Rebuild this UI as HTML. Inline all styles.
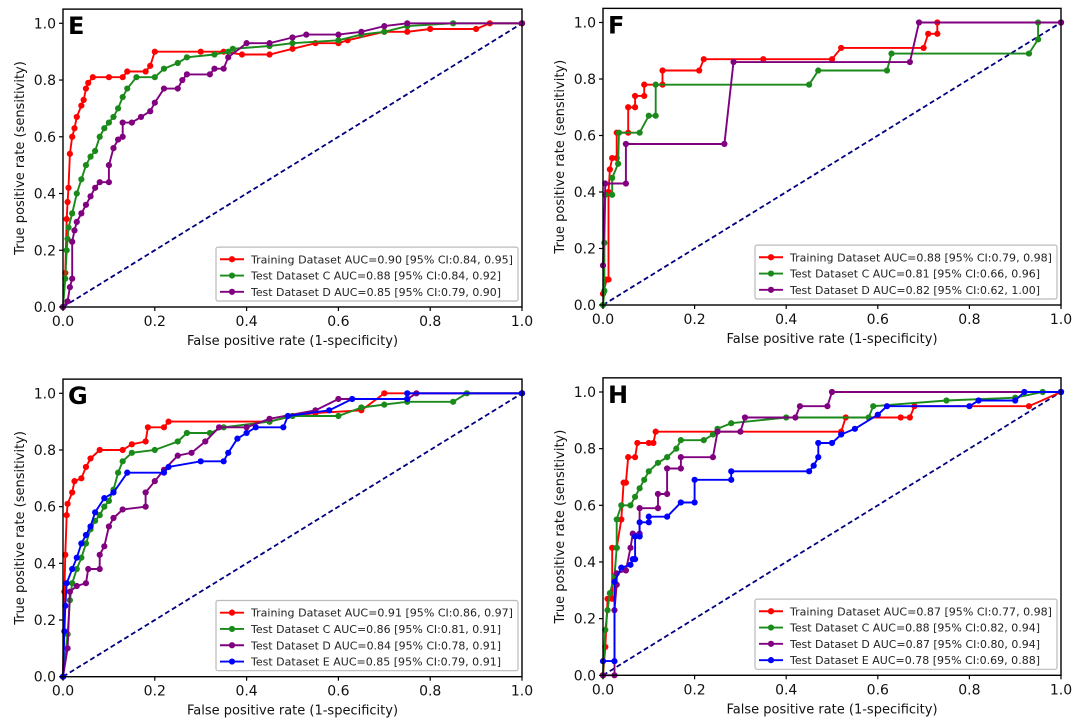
<!DOCTYPE html>
<html><head><meta charset="utf-8">
<style>
html,body{margin:0;padding:0;background:#fff;}
svg{display:block;font-family:"DejaVu Sans","Liberation Sans",sans-serif;}
</style></head>
<body>
<svg id="fig" width="1080" height="726" viewBox="0 0 1080 726"></svg>
<script>
// ---- data (fpr / tpr arrays per panel & series) ----
const tickLabels = ["0.0","0.2","0.4","0.6","0.8","1.0"];
const tickValues = [0,0.2,0.4,0.6,0.8,1.0];

const eTrainFpr=[0,0.005,0.008,0.01,0.012,0.015,0.02,0.025,0.03,0.04,0.045,0.05,0.055,0.065,0.1,0.13,0.14,0.18,0.19,0.2,0.3,0.35,0.39,0.45,0.5,0.55,0.6,0.62,0.7,0.75,0.8,0.9,0.93,1];
const eTrainTpr=[0,0.12,0.31,0.37,0.42,0.54,0.6,0.63,0.67,0.71,0.73,0.77,0.79,0.81,0.81,0.81,0.83,0.83,0.85,0.9,0.9,0.9,0.89,0.89,0.91,0.93,0.93,0.94,0.97,0.97,0.98,0.98,1,1];
const eCFpr=[0,0.005,0.008,0.01,0.012,0.02,0.03,0.04,0.05,0.06,0.07,0.08,0.09,0.1,0.11,0.12,0.13,0.14,0.16,0.2,0.22,0.25,0.27,0.33,0.36,0.37,0.45,0.5,0.6,0.65,0.7,0.75,0.85,1];
const eCTpr=[0,0.1,0.2,0.24,0.28,0.33,0.4,0.45,0.5,0.53,0.55,0.6,0.63,0.65,0.67,0.7,0.74,0.77,0.81,0.81,0.84,0.86,0.88,0.89,0.9,0.91,0.92,0.93,0.94,0.96,0.97,0.99,1,1];
const eDFpr=[0,0.01,0.015,0.02,0.02,0.025,0.03,0.04,0.05,0.06,0.07,0.08,0.1,0.1,0.11,0.12,0.13,0.13,0.15,0.17,0.19,0.2,0.22,0.25,0.26,0.27,0.32,0.33,0.35,0.36,0.4,0.45,0.5,0.53,0.6,0.65,0.7,0.75,1];
const eDTpr=[0,0.02,0.07,0.1,0.23,0.27,0.3,0.33,0.36,0.39,0.42,0.44,0.44,0.5,0.56,0.59,0.6,0.65,0.65,0.67,0.69,0.72,0.77,0.77,0.8,0.82,0.82,0.84,0.84,0.88,0.93,0.93,0.95,0.96,0.96,0.97,0.99,1,1];

const fTrainFpr=[0,0.008,0.012,0.012,0.015,0.02,0.03,0.03,0.055,0.055,0.07,0.07,0.09,0.09,0.13,0.13,0.21,0.22,0.35,0.5,0.52,0.7,0.71,0.73,0.73,1];
const fTrainTpr=[0.04,0.09,0.09,0.4,0.48,0.52,0.52,0.61,0.61,0.7,0.7,0.74,0.74,0.78,0.78,0.83,0.83,0.87,0.87,0.87,0.91,0.91,0.96,0.96,1,1];
const fCFpr=[0,0.003,0.003,0.005,0.02,0.02,0.033,0.035,0.08,0.1,0.115,0.115,0.45,0.47,0.62,0.63,0.93,0.95,0.95,1];
const fCTpr=[0,0.05,0.22,0.39,0.39,0.45,0.5,0.61,0.61,0.67,0.67,0.78,0.78,0.83,0.83,0.89,0.89,0.94,1,1];
const fDFpr=[0,0.005,0.05,0.05,0.265,0.285,0.67,0.69,1];
const fDTpr=[0.14,0.43,0.43,0.57,0.57,0.86,0.86,1,1];

const gTrainFpr=[0,0.003,0.005,0.008,0.01,0.02,0.025,0.04,0.05,0.06,0.08,0.13,0.15,0.18,0.185,0.22,0.23,0.45,0.5,0.55,0.65,0.7,1];
const gTrainTpr=[0,0.3,0.43,0.57,0.61,0.65,0.69,0.7,0.74,0.77,0.8,0.8,0.82,0.83,0.88,0.88,0.9,0.9,0.92,0.93,0.94,1,1];
const gCFpr=[0,0.01,0.015,0.02,0.03,0.04,0.05,0.06,0.07,0.08,0.09,0.1,0.11,0.12,0.13,0.15,0.2,0.25,0.27,0.32,0.35,0.45,0.5,0.6,0.65,0.7,0.75,0.85,0.88,1];
const gCTpr=[0,0.15,0.27,0.33,0.38,0.42,0.47,0.52,0.55,0.57,0.6,0.62,0.66,0.72,0.76,0.79,0.8,0.83,0.86,0.86,0.88,0.9,0.92,0.92,0.95,0.96,0.97,0.97,1,1];
const gDFpr=[0,0.01,0.015,0.03,0.05,0.055,0.08,0.08,0.09,0.1,0.11,0.13,0.18,0.18,0.2,0.22,0.25,0.28,0.31,0.34,0.4,0.45,0.55,0.6,0.75,0.77,1];
const gDTpr=[0,0.1,0.3,0.32,0.33,0.38,0.38,0.43,0.46,0.53,0.56,0.59,0.6,0.65,0.69,0.73,0.78,0.79,0.83,0.88,0.88,0.91,0.94,0.98,0.98,1,1];
const gEFpr=[0,0.003,0.005,0.008,0.02,0.03,0.04,0.05,0.06,0.07,0.09,0.11,0.14,0.22,0.23,0.3,0.35,0.36,0.38,0.4,0.42,0.48,0.49,0.58,0.63,0.75,0.75,1];
const gETpr=[0,0.16,0.25,0.33,0.38,0.42,0.47,0.5,0.53,0.58,0.63,0.65,0.72,0.72,0.74,0.76,0.76,0.79,0.84,0.86,0.88,0.88,0.92,0.94,0.98,0.98,1,1];

const hTrainFpr=[0,0.005,0.01,0.02,0.02,0.03,0.04,0.045,0.05,0.055,0.07,0.075,0.1,0.11,0.115,0.52,0.53,0.65,0.67,0.68,0.93,1];
const hTrainTpr=[0,0.1,0.27,0.27,0.45,0.45,0.55,0.68,0.68,0.77,0.77,0.82,0.82,0.82,0.86,0.86,0.91,0.91,0.91,0.95,0.95,1];
const hCFpr=[0,0.005,0.01,0.015,0.025,0.03,0.03,0.04,0.06,0.07,0.08,0.09,0.1,0.12,0.14,0.16,0.17,0.22,0.24,0.25,0.28,0.4,0.58,0.59,0.75,0.9,0.96,1];
const hCTpr=[0,0.16,0.23,0.29,0.35,0.45,0.55,0.6,0.6,0.63,0.66,0.69,0.72,0.75,0.77,0.8,0.83,0.83,0.85,0.87,0.89,0.91,0.91,0.95,0.97,0.98,1,1];
const hDFpr=[0,0.025,0.025,0.03,0.03,0.05,0.06,0.065,0.08,0.08,0.12,0.12,0.14,0.14,0.17,0.17,0.24,0.25,0.3,0.31,0.42,0.43,0.49,0.5,1];
const hDTpr=[0,0,0.23,0.32,0.36,0.37,0.45,0.5,0.5,0.59,0.59,0.64,0.64,0.73,0.73,0.77,0.77,0.86,0.86,0.91,0.91,0.95,0.95,1,1];
const hEFpr=[0,0.025,0.025,0.04,0.06,0.065,0.07,0.07,0.08,0.08,0.1,0.1,0.14,0.17,0.2,0.2,0.28,0.28,0.45,0.46,0.47,0.47,0.5,0.52,0.55,0.6,0.62,0.8,0.82,0.9,0.92,1];
const hETpr=[0.05,0.05,0.33,0.38,0.39,0.41,0.41,0.49,0.49,0.54,0.54,0.56,0.56,0.61,0.61,0.69,0.69,0.72,0.72,0.74,0.77,0.82,0.82,0.85,0.87,0.92,0.95,0.95,0.97,0.97,1,1];

const legendE=["Training Dataset AUC=0.90 [95% CI:0.84, 0.95]","Test Dataset C AUC=0.88 [95% CI:0.84, 0.92]","Test Dataset D AUC=0.85 [95% CI:0.79, 0.90]"];
const legendF=["Training Dataset AUC=0.88 [95% CI:0.79, 0.98]","Test Dataset C AUC=0.81 [95% CI:0.66, 0.96]","Test Dataset D AUC=0.82 [95% CI:0.62, 1.00]"];
const legendG=["Training Dataset AUC=0.91 [95% CI:0.86, 0.97]","Test Dataset C AUC=0.86 [95% CI:0.81, 0.91]","Test Dataset D AUC=0.84 [95% CI:0.78, 0.91]","Test Dataset E AUC=0.85 [95% CI:0.79, 0.91]"];
const legendH=["Training Dataset AUC=0.87 [95% CI:0.77, 0.98]","Test Dataset C AUC=0.88 [95% CI:0.82, 0.94]","Test Dataset D AUC=0.87 [95% CI:0.80, 0.94]","Test Dataset E AUC=0.78 [95% CI:0.69, 0.88]"];

const colors=["#ff0000","#1a8a1a","#800080","#0000ff"];
const NS="http://www.w3.org/2000/svg";
const svg=document.getElementById('fig');
function mk(tag,attrs,parent){const e=document.createElementNS(NS,tag);for(const k in attrs)e.setAttribute(k,attrs[k]);(parent||svg).appendChild(e);return e;}

const panels=[
 {id:"e",letter:"E",x0:63,x1:522,y0:307,y1:23.3,series:[[eTrainFpr,eTrainTpr],[eCFpr,eCTpr],[eDFpr,eDTpr]],legend:legendE},
 {id:"f",letter:"F",x0:603,x1:1061,y0:305,y1:22.5,series:[[fTrainFpr,fTrainTpr],[fCFpr,fCTpr],[fDFpr,fDTpr]],legend:legendF},
 {id:"g",letter:"G",x0:63,x1:522,y0:676.7,y1:393.3,series:[[gTrainFpr,gTrainTpr],[gCFpr,gCTpr],[gDFpr,gDTpr],[gEFpr,gETpr]],legend:legendG},
 {id:"h",letter:"H",x0:603,x1:1061,y0:675.3,y1:392,series:[[hTrainFpr,hTrainTpr],[hCFpr,hCTpr],[hDFpr,hDTpr],[hEFpr,hETpr]],legend:legendH}
];

panels.forEach(p=>{
  const g=mk('g',{});
  
  
  const xs=v=>p.x0+v*(p.x1-p.x0);
  const ys=v=>p.y0-v*(p.y0-p.y1);
  const top=ys(1.05);
  const d=mk('line',{x1:xs(0),y1:ys(0),x2:xs(1),y2:ys(1),stroke:"#000080","stroke-width":1.8,"stroke-dasharray":"5,3"},g);
  
  
  p.series.forEach((s,i)=>{
    const sg=mk('g',{},g);
    
    
    const pts=s[0].map((f,k)=>xs(f).toFixed(1)+','+ys(s[1][k]).toFixed(1)).join(' ');
    mk('polyline',{points:pts,fill:"none",stroke:colors[i],"stroke-width":1.9},sg);
    s[0].forEach((f,k)=>{
      const c=mk('circle',{cx:xs(f),cy:ys(s[1][k]),r:3.1,fill:colors[i]},sg);
      
      
    });
  });
  const fr=mk('rect',{x:p.x0,y:top,width:p.x1-p.x0,height:p.y0-top,fill:"none",stroke:"#000","stroke-width":1.4},g);
  
  
  tickValues.forEach((v,k)=>{
    mk('line',{x1:xs(v),y1:p.y0,x2:xs(v),y2:p.y0+4,stroke:"#000","stroke-width":1.2},g);
    const tx=mk('text',{x:xs(v),y:p.y0+19,"text-anchor":"middle","font-size":14,fill:"#111"},g);
    tx.textContent=tickLabels[k];
    
    
    mk('line',{x1:p.x0-4,y1:ys(v),x2:p.x0,y2:ys(v),stroke:"#000","stroke-width":1.2},g);
    const ty=mk('text',{x:p.x0-7,y:ys(v)+5,"text-anchor":"end","font-size":14,fill:"#111"},g);
    ty.textContent=tickLabels[k];
    
    
  });
  const xt=mk('text',{x:(p.x0+p.x1)/2,y:p.y0+38,"text-anchor":"middle","font-size":13,fill:"#111"},g);
  xt.textContent="False positive rate (1-specificity)";
  
  
  const cy=(top+p.y0)/2;
  const yt=mk('text',{x:0,y:0,"text-anchor":"middle","font-size":13,fill:"#111",transform:`translate(${p.x0-39},${cy}) rotate(-90)`},g);
  yt.textContent="True positive rate (sensitivity)";
  
  
  const lt=mk('text',{x:p.x0+5,y:top+25,"font-size":24,"font-weight":"bold",fill:"#000"},g);
  lt.textContent=p.letter;
  
  
  const n=p.legend.length, rh=16.3;
  const lw=302, lh=n*rh+5;
  const lx=p.x1-4-lw, ly=p.y0-6-lh;
  const lg=mk('g',{},g);
  
  
  mk('rect',{x:lx,y:ly,width:lw,height:lh,fill:"#fff",stroke:"#bbb","stroke-width":1.2,rx:2},lg);
  p.legend.forEach((t,i)=>{
    const ry=ly+4+rh*i+rh/2;
    const eg=mk('g',{},lg);
    
    
    mk('line',{x1:lx+4,y1:ry,x2:lx+28,y2:ry,stroke:colors[i],"stroke-width":1.9},eg);
    mk('circle',{cx:lx+16,cy:ry,r:3.1,fill:colors[i]},eg);
    const tt=mk('text',{x:lx+35,y:ry+4,"font-size":10.8,fill:"#222"},eg);
    tt.textContent=t;
    const w=(i===0?262:(t.length/45)*262);
    tt.setAttribute('textLength',w.toFixed(0));
    tt.setAttribute('lengthAdjust','spacingAndGlyphs');
  });
});
</script>
</body></html>
